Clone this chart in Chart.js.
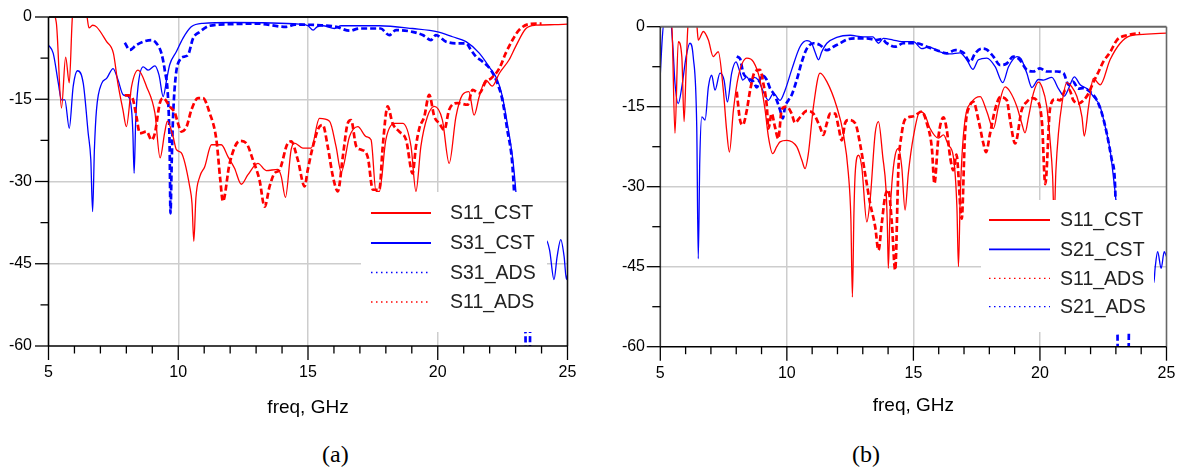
<!DOCTYPE html>
<html lang="en">
<head>
<meta charset="UTF-8">
<title>S-parameters CST / ADS</title>
<script src="https://cdn.jsdelivr.net/npm/chart.js"></script>
<style>
  body { margin: 0; background: #fff; }
  #wrap { position: relative; width: 1182px; height: 472px; overflow: hidden; background: #fff; }
  canvas { position: absolute; top: 0; }
  #chartA { left: 0; }
  #chartB { left: 591px; }
  .cap { position: absolute; top: 441px; font-family: 'Liberation Serif', 'Times New Roman', serif; font-size: 24px; color: #000; }
</style>
</head>
<body>
<div id="wrap">
  <canvas id="chartA" width="591" height="430"></canvas>
  <canvas id="chartB" width="591" height="430"></canvas>
  <div class="cap" style="left:322px">(a)</div>
  <div class="cap" style="left:852px">(b)</div>
</div>
<script>
// axis ticks
const freqTicks = [5, 10, 15, 20, 25];
const dbTicks = [-60, -45, -30, -15, 0];

// panel (a): [freq GHz, dB]
const a_S11_CST = [[5.0,2],[5.3,-1],[5.5,-16.6],[5.66,-7.3],[5.8,-12],[5.93,0.5],[6.2,3],[6.47,0.5],[6.56,-2],[6.7,-1.5],
  [6.85,-1.8],[7.24,-4.5],[7.5,-6.6],[7.67,-12],[7.87,-17],[8.0,-20],[8.2,-12.7],[8.45,-9.7],[8.78,-12.7],[9.1,-17.5],
  [9.3,-25.7],[9.48,-21],[9.58,-19],[9.8,-21.8],[9.93,-24.2],[10.12,-24.8],[10.44,-30.9],[10.53,-34],[10.6,-40.9],[10.68,-33],
  [10.83,-29.1],[11.02,-27.3],[11.28,-23.3],[11.66,-23.3],[11.92,-25.5],[12.17,-27.6],[12.43,-30.5],[12.68,-28.8],[13.07,-26.7],[13.39,-28],
  [13.84,-27.8],[13.97,-29.1],[14.13,-32.9],[14.35,-24.2],[14.48,-23],[14.8,-23.9],[15.12,-23.9],[15.44,-18.5],[15.83,-19],[16.08,-23.6],
  [16.28,-28.3],[16.6,-21.8],[16.92,-20],[17.24,-21.8],[17.43,-22.4],[17.62,-31.8],[17.75,-31.8],[18.0,-22.4],[18.33,-19.4],[18.65,-19.4],
  [18.97,-23.6],[19.16,-31.8],[19.35,-23.6],[19.6,-18.2],[19.87,-16.3],[20.18,-18.8],[20.44,-26.7],[20.7,-18.2],[20.95,-14.2],[21.2,-13.6],
  [21.4,-17.9],[21.6,-14.5],[21.85,-11.5],[22.1,-12.6],[22.37,-10.3],[22.75,-7.8],[23.0,-5.4],[23.4,-2.1],[23.78,-1.5],[24.5,-1.4],[25.0,-1.3]];
const a_S31_CST = [[5.0,-5.1],[5.18,-6.6],[5.38,-12.1],[5.5,-15.1],[5.63,-15.1],[5.8,-20.3],[5.95,-12.7],[6.12,-9.8],[6.34,-12.1],[6.53,-21.2],
  [6.63,-26],[6.7,-35.5],[6.77,-24],[6.85,-16.9],[7.05,-12.1],[7.24,-11.2],[7.49,-9.4],[7.68,-11.5],[7.88,-14.2],[8.07,-14.5],
  [8.2,-16.9],[8.25,-21],[8.3,-28.5],[8.36,-19],[8.45,-12.7],[8.65,-9.1],[8.84,-9.7],[9.1,-8.9],[9.26,-10.6],[9.42,-14.5],
  [9.55,-11.5],[9.67,-8.7],[9.93,-6.3],[10.18,-3.9],[10.5,-1.8],[10.95,-1.15],[12.1,-1.0],[14.67,-1.3],[15.0,-1.6],[15.2,-2.4],
  [15.35,-1.8],[15.57,-1.6],[16.02,-2.1],[16.28,-1.6],[17.75,-1.6],[19.03,-2.1],[20.0,-2.7],[20.57,-3.6],[21.09,-4.5],[21.6,-6.6],
  [21.98,-9.1],[22.3,-11.5],[22.49,-14.5],[22.68,-19.4],[22.88,-25.5],[23.01,-31.8],[23.2,-45],[23.6,-50],[24.0,-50],[24.1,-45],
  [24.16,-40.6],[24.31,-42.5],[24.48,-47.9],[24.6,-43.7],[24.74,-40.6],[24.87,-43.7],[24.96,-47.9],[25.0,-47]];
const a_S31_ADS = [[7.94,-4.7],[8.13,-6],[8.39,-5.1],[8.65,-4.5],[8.97,-4.2],[9.16,-4.8],[9.35,-6.6],[9.48,-9.7],[9.61,-15.1],[9.67,-24.2],
  [9.7,-35.8],[9.75,-26],[9.8,-18.2],[9.9,-10.9],[10.06,-7.8],[10.25,-7.2],[10.38,-6.9],[10.57,-3.9],[10.83,-2.7],[11.21,-1.6],
  [12.1,-1.3],[13.0,-1.2],[14.16,-1.8],[14.5,-1.4],[15.5,-1.5],[16.09,-1.8],[16.6,-2.5],[16.98,-2.1],[17.8,-2.1],[18.13,-3.3],
  [18.39,-2.4],[19.03,-2.7],[19.42,-3.3],[19.74,-4.2],[19.93,-3.3],[20.32,-4.5],[20.83,-4.8],[21.09,-4.8],[21.28,-6],[21.47,-7.2],
  [21.72,-8.1],[22.05,-9.7],[22.3,-12.1],[22.49,-15.1],[22.68,-20.6],[22.86,-26.1],[22.94,-31.8],[23.1,-45],[23.37,-54],[23.41,-70],
  [23.53,-70],[23.57,-54],[23.9,-48],[24.1,-48]];
const a_S11_ADS = [[7.94,-14.3],[8.1,-14.3],[8.26,-15.1],[8.39,-18.2],[8.52,-21.2],[8.78,-20.9],[8.97,-22.4],[9.1,-21.2],[9.29,-15.7],[9.42,-14.8],
  [9.67,-16.3],[9.87,-17.5],[9.99,-19.4],[10.12,-20.9],[10.32,-20],[10.51,-16.9],[10.76,-14.8],[10.95,-14.8],[11.21,-17.5],[11.47,-22.4],
  [11.62,-29.7],[11.72,-33.6],[11.98,-26.7],[12.37,-22.6],[12.62,-23],[12.88,-26.1],[13.13,-29.7],[13.33,-34.6],[13.52,-30.9],[13.71,-28.5],
  [13.9,-27.9],[14.22,-23],[14.35,-22.7],[14.61,-26.1],[14.87,-30.9],[14.99,-27.9],[15.19,-23.6],[15.44,-20],[15.57,-19.7],[15.76,-23.6],
  [15.96,-29.1],[16.15,-31.8],[16.34,-25.5],[16.53,-19.4],[16.66,-18.8],[16.86,-23.6],[17.05,-24.2],[17.3,-25.5],[17.5,-31.5],[17.75,-31.5],
  [17.88,-23.6],[18.07,-16.3],[18.26,-19.4],[18.52,-20.9],[18.78,-22.4],[19.03,-28.5],[19.16,-23.6],[19.29,-20.3],[19.48,-18.2],[19.67,-14.2],
  [19.87,-18.2],[20.06,-19.4],[20.25,-20.6],[20.44,-16.9],[20.76,-15.7],[21.15,-16],[21.34,-13.3],[21.6,-13.9],[21.85,-11.8],[22.05,-11.2],
  [22.37,-9.4],[22.62,-6.6],[22.88,-4.2],[23.13,-2.4],[23.52,-1.3],[24.0,-1.2]];

// panel (b): [freq GHz, dB]
const b_S11_CST = [[5.0,2],[5.45,0.5],[5.58,-20],[5.71,-2.8],[5.85,-5.6],[5.94,-17.8],[6.02,-8],[6.1,0.5],[6.3,2],[6.44,0.5],
  [6.5,-2.5],[6.7,-0.9],[6.9,-2.5],[7.09,-5.6],[7.29,-4.7],[7.49,-11.9],[7.62,-19.4],[7.73,-23.5],[7.89,-15.6],[8.08,-9.4],
  [8.42,-5.9],[8.68,-6.6],[8.94,-10],[9.14,-15.6],[9.27,-20.6],[9.44,-23.8],[9.6,-22.5],[9.73,-21.6],[10.0,-21.3],[10.39,-22.5],
  [10.59,-25],[10.72,-26.6],[10.85,-23.8],[11.05,-15],[11.31,-8.7],[11.58,-10.3],[11.97,-15],[12.23,-20],[12.43,-27.5],[12.53,-36],
  [12.59,-50.7],[12.65,-35],[12.7,-27.5],[12.83,-24.1],[12.96,-26.3],[13.16,-36.6],[13.29,-32.5],[13.49,-20],[13.62,-17.8],[13.79,-24.4],
  [13.92,-30.6],[13.97,-37],[14.01,-45.3],[14.07,-36],[14.15,-29.4],[14.28,-24.1],[14.41,-22.8],[14.54,-26.3],[14.67,-34.4],[14.8,-27.5],
  [15.0,-20.6],[15.26,-15.9],[15.46,-16.6],[15.66,-19.1],[15.99,-20.9],[16.19,-20.3],[16.38,-22.2],[16.58,-24.4],[16.72,-34],[16.78,-45],
  [16.85,-32],[16.91,-25],[17.04,-17.5],[17.31,-14.1],[17.64,-13.1],[17.9,-15.9],[18.16,-19.1],[18.36,-15],[18.62,-11.3],[18.82,-12.2],
  [19.09,-15],[19.28,-18.1],[19.41,-19.9],[19.55,-16.9],[19.74,-12.5],[19.94,-10.4],[20.08,-11.3],[20.27,-15],[20.4,-21.3],[20.5,-28],
  [20.56,-36],[20.63,-27],[20.73,-20],[20.87,-14.4],[21.06,-10.5],[21.26,-11.3],[21.46,-13.1],[21.66,-16.9],[21.75,-20.5],[21.92,-15],
  [22.11,-9.7],[22.38,-10.9],[22.77,-6.2],[23.17,-3.1],[23.56,-1.7],[24.22,-1.4],[25.0,-1.2]];
const b_S21_CST = [[5.0,-9],[5.08,-2],[5.15,1],[5.4,1],[5.5,-4],[5.58,-10.6],[5.71,-14.4],[5.85,-11.3],[6.02,-5.6],[6.17,-3.1],
  [6.3,-5.6],[6.44,-18.8],[6.5,-43.5],[6.56,-25],[6.64,-16.9],[6.77,-17.5],[6.9,-11.3],[7.03,-9.1],[7.16,-11.9],[7.36,-8.7],
  [7.52,-10],[7.65,-14.1],[7.82,-8.7],[7.99,-6.6],[8.12,-8.1],[8.26,-10],[8.42,-9.4],[8.57,-10.5],[8.7,-9.5],[8.87,-10],
  [9.07,-12.2],[9.27,-13.8],[9.47,-12.5],[9.73,-13.8],[9.93,-11.9],[10.19,-8.1],[10.52,-3.75],[10.79,-2.6],[10.98,-3.1],[11.11,-4.7],
  [11.25,-6.2],[11.38,-4.7],[11.58,-3.1],[11.97,-2.0],[12.5,-1.6],[13.02,-1.9],[13.4,-1.9],[13.62,-3.1],[13.81,-2.2],[14.2,-2.5],
  [14.54,-2.8],[15.0,-2.8],[15.33,-4.1],[15.6,-3.8],[16.05,-4.7],[16.45,-5.1],[16.84,-4.9],[17.11,-6.2],[17.35,-8.0],[17.57,-6.2],
  [17.9,-5.9],[18.23,-7.5],[18.53,-10.5],[18.76,-7.5],[19.09,-5.6],[19.25,-6],[19.48,-8.7],[19.68,-11.4],[19.94,-9.9],[20.14,-10],
  [20.47,-9.5],[20.73,-11.6],[20.96,-13],[21.13,-11.6],[21.36,-9.4],[21.59,-10.9],[21.85,-11.6],[22.11,-13.1],[22.38,-15],[22.58,-18.8],
  [22.77,-23.1],[22.9,-28.1],[23.0,-32.5],[23.2,-45],[24.0,-48],[24.5,-48],[24.55,-45.3],[24.65,-42.2],[24.79,-45.3],[24.91,-42.2],[25.0,-43.1]];
const b_S11_ADS = [[8.02,-12.2],[8.15,-17.5],[8.26,-18.4],[8.42,-15.6],[8.55,-11.9],[8.74,-8.4],[8.94,-8.1],[9.07,-10.6],[9.21,-15],[9.27,-19.1],
  [9.4,-16.3],[9.53,-18.8],[9.66,-21],[9.8,-15.5],[10.0,-15],[10.19,-16.3],[10.32,-18],[10.52,-17],[10.79,-15.8],[11.05,-16.3],
  [11.31,-18.8],[11.44,-20.3],[11.58,-18.1],[11.71,-16.3],[11.91,-16.3],[12.04,-18.8],[12.17,-21.3],[12.3,-18.1],[12.43,-17.5],[12.7,-18.1],
  [12.89,-21.9],[13.09,-27.5],[13.29,-33.1],[13.49,-37.5],[13.62,-41.9],[13.75,-36.9],[13.88,-31.9],[14.01,-30.6],[14.15,-36.9],[14.28,-45.6],
  [14.41,-26.3],[14.54,-20],[14.67,-17.4],[15.0,-16.8],[15.33,-15.9],[15.53,-18.1],[15.73,-22.8],[15.83,-29.4],[15.99,-20.6],[16.19,-17],
  [16.32,-19.4],[16.45,-24.4],[16.58,-26.9],[16.7,-24],[16.91,-36],[17.04,-20],[17.24,-14.7],[17.37,-14.1],[17.57,-17.5],[17.77,-22],
  [17.87,-23.5],[18.03,-20],[18.23,-15.5],[18.43,-13.2],[18.69,-13.8],[18.82,-17.5],[19.02,-21.9],[19.28,-15.6],[19.48,-14.1],[19.68,-13.4],
  [19.88,-13.8],[20.08,-18],[20.21,-29.5],[20.4,-15.3],[20.6,-13.6],[20.8,-13.8],[21.0,-11.9],[21.15,-11.8],[21.32,-13.8],[21.52,-14.4],
  [21.72,-13.8],[21.92,-12.5],[22.1,-10.5],[22.31,-8.5],[22.51,-6.5],[22.77,-4.8],[23.04,-2.5],[23.43,-1.6],[23.96,-1.2]];
const b_S21_ADS = [[8.02,-5.6],[8.15,-6],[8.28,-8.7],[8.48,-9.7],[8.68,-10.3],[8.81,-11.4],[9.01,-9.1],[9.21,-10],[9.34,-11.6],[9.47,-12.5],
  [9.6,-13.8],[9.73,-15.6],[9.84,-17.2],[9.93,-15],[10.06,-13.8],[10.19,-12.8],[10.39,-10],[10.59,-6.6],[10.79,-4.1],[11.05,-3.1],
  [11.3,-3.4],[11.58,-4.4],[11.84,-3.75],[12.1,-3.1],[12.37,-2.4],[12.76,-2.2],[13.16,-2.2],[13.55,-2.5],[13.75,-2.3],[13.95,-3.1],
  [14.28,-3.75],[14.6,-3.1],[15.13,-3.1],[15.53,-3.75],[15.92,-4.4],[16.32,-5],[16.65,-4.4],[16.98,-4.9],[17.24,-6.6],[17.44,-5],
  [17.7,-4.1],[17.9,-4.3],[18.16,-5.6],[18.43,-7.2],[18.69,-6.9],[18.95,-5.6],[19.2,-6.2],[19.48,-8.1],[19.74,-8.4],[20.0,-7.8],
  [20.27,-8.4],[20.67,-8.4],[20.93,-8.7],[21.13,-10.9],[21.3,-10.3],[21.52,-11.6],[21.7,-11.5],[21.98,-12.2],[22.25,-13.8],[22.45,-16.3],
  [22.64,-20],[22.84,-25],[22.97,-30],[23.03,-45],[23.06,-55],[23.09,-70],[23.48,-70],[23.52,-55],[23.6,-48],[23.9,-48]];

const RED = '#ff0000', BLUE = '#0000ff';
const FONT = '"Liberation Sans", Arial, sans-serif';

function toXY(arr) {
  return arr.map(function (p) { return { x: p[0], y: p[1] }; });
}

function series(label, arr, color, dashed) {
  return {
    label: label,
    data: toXY(arr),
    borderColor: color,
    borderWidth: dashed ? 2.7 : 1.3,
    borderDash: dashed ? [6, 3] : [],
    pointRadius: 0,
    cubicInterpolationMode: 'monotone',
    fill: false
  };
}

// white legend box, frame and tick marks drawn over the plot
function overlay(cfg) {
  return {
    id: 'overlay',
    afterDatasetsDraw: function (chart) {
      const ctx = chart.ctx, a = chart.chartArea;
      const xs = chart.scales.x, ys = chart.scales.y;
      ctx.save();
      ctx.fillStyle = '#fff';
      ctx.fillRect(cfg.box[0], cfg.box[1], cfg.box[2], cfg.box[3]);
      cfg.items.forEach(function (it, i) {
        const y = cfg.rows[i];
        ctx.beginPath();
        ctx.strokeStyle = it.color;
        ctx.lineWidth = it.dash ? 1.3 : 1.8;
        ctx.setLineDash(it.dash || []);
        ctx.moveTo(cfg.lineX[0], y);
        ctx.lineTo(cfg.lineX[1], y);
        ctx.stroke();
        ctx.setLineDash([]);
        ctx.fillStyle = '#222';
        ctx.font = '19.5px ' + FONT;
        ctx.textAlign = 'left';
        ctx.textBaseline = 'middle';
        ctx.fillText(it.label, cfg.textX, y + 1);
      });

      function seg(x0, y0, x1, y1, color, w) {
        ctx.beginPath();
        ctx.strokeStyle = color;
        ctx.lineWidth = w;
        ctx.moveTo(x0, y0);
        ctx.lineTo(x1, y1);
        ctx.stroke();
      }
      // frame
      seg(a.left, a.top, a.right, a.top, cfg.topColor, 2);
      seg(a.right, a.top, a.right, a.bottom, cfg.topColor, 1.6);
      seg(a.left, a.top, a.left, a.bottom, cfg.leftColor, 1.6);
      seg(a.left, a.bottom, a.right, a.bottom, '#000', 1.6);

      // tick marks
      for (let v = xs.min; v <= xs.max; v += 1) {
        const px = xs.getPixelForValue(v);
        seg(px, a.bottom, px, a.bottom + (v % 5 === 0 ? 14 : 7.5), '#000', 1.3);
      }
      for (let v = ys.min; v <= ys.max; v += 7.5) {
        const py = ys.getPixelForValue(v);
        seg(a.left - (v % 15 === 0 ? 13.5 : 8), py, a.left, py, '#000', 1.3);
      }
      ctx.restore();
    }
  };
}

function makeChart(id, datasets, lay, cfg) {
  const gridColor = function (c) {
    if (!c.tick) return 'rgba(0,0,0,0)';
    const s = c.scale;
    return (c.tick.value > s.min && c.tick.value < s.max) ? '#cdcdcd' : 'rgba(0,0,0,0)';
  };
  return new Chart(document.getElementById(id).getContext('2d'), {
    type: 'line',
    data: { datasets: datasets },
    options: {
      responsive: false,
      animation: false,
      layout: { padding: { left: 0, top: lay.top, right: lay.right, bottom: 0 } },
      plugins: { legend: { display: false }, tooltip: { enabled: false } },
      scales: {
        x: {
          type: 'linear', min: 5, max: 25,
          afterBuildTicks: function (s) { s.ticks = freqTicks.map(function (v) { return { value: v }; }); },
          ticks: { padding: 0, color: '#000', font: { family: FONT, size: 16 } },
          grid: { drawTicks: true, tickLength: 17, tickColor: 'rgba(0,0,0,0)', color: gridColor, lineWidth: 1.5 },
          border: { display: false },
          title: { display: true, text: 'freq, GHz', color: '#000', font: { family: FONT, size: 19 }, padding: { top: 0, bottom: lay.titlePad } },
          afterFit: function (s) { s.height = lay.xHeight; }
        },
        y: {
          min: -60, max: 0,
          afterBuildTicks: function (s) { s.ticks = dbTicks.map(function (v) { return { value: v }; }); },
          ticks: { padding: 0, color: '#000', font: { family: FONT, size: 16 } },
          grid: { drawTicks: true, tickLength: lay.yPad, tickColor: 'rgba(0,0,0,0)', color: gridColor, lineWidth: 1.5 },
          border: { display: false },
          afterFit: function (s) { s.width = lay.yWidth; }
        }
      }
    },
    plugins: [overlay(cfg)]
  });
}

makeChart('chartA', [
  series('S11_CST', a_S11_CST, RED, false),
  series('S11_ADS', a_S11_ADS, RED, true),
  series('S31_CST', a_S31_CST, BLUE, false),
  series('S31_ADS', a_S31_ADS, BLUE, true)
], { top: 17, right: 23.5, xHeight: 84, yWidth: 48.5, yPad: 16.5, titlePad: 11 }, {
  box: [361, 192, 186, 140],
  rows: [213, 243, 272.5, 302],
  lineX: [371, 431],
  textX: 450,
  topColor: '#111', leftColor: '#000',
  items: [
    { label: 'S11_CST', color: RED },
    { label: 'S31_CST', color: BLUE },
    { label: 'S31_ADS', color: BLUE, dash: [1.5, 3.5] },
    { label: 'S11_ADS', color: RED, dash: [1.5, 3.5] }
  ]
});

makeChart('chartB', [
  series('S11_CST', b_S11_CST, RED, false),
  series('S11_ADS', b_S11_ADS, RED, true),
  series('S21_CST', b_S21_CST, BLUE, false),
  series('S21_ADS', b_S21_ADS, BLUE, true)
], { top: 26.7, right: 15.5, xHeight: 83.3, yWidth: 69.3, yPad: 15.3, titlePad: 12.5 }, {
  box: [390, 200, 173, 132],
  rows: [220, 249.3, 278.3, 306.7],
  lineX: [398, 459],
  textX: 469,
  topColor: '#666', leftColor: '#333',
  items: [
    { label: 'S11_CST', color: RED },
    { label: 'S21_CST', color: BLUE },
    { label: 'S11_ADS', color: RED, dash: [1.5, 3.5] },
    { label: 'S21_ADS', color: BLUE, dash: [1.5, 3.5] }
  ]
});
</script>
</body>
</html>
